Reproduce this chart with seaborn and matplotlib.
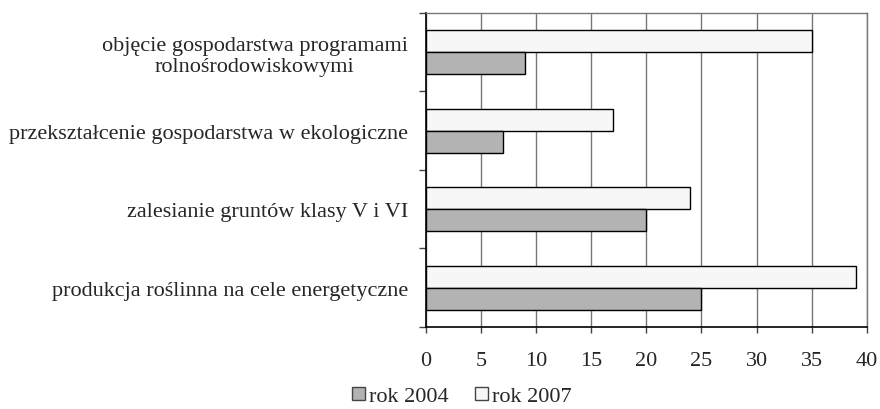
import numpy as np
import pandas as pd
import matplotlib
matplotlib.use("Agg")
import matplotlib.pyplot as plt
import seaborn as sns
from matplotlib.patches import Patch

categories = [
    "objęcie gospodarstwa programami\nrolnośrodowiskowymi",
    "przekształcenie gospodarstwa w ekologiczne",
    "zalesianie gruntów klasy V i VI",
    "produkcja roślinna na cele energetyczne",
]
values_2004 = [9, 7, 20, 25]
values_2007 = [35, 17, 24, 39]
series = ["rok 2004", "rok 2007"]
colors = {"rok 2004": "#b3b3b3", "rok 2007": "#f7f7f7"}

sns.set_style("white")
plt.rcParams["font.family"] = ["Liberation Serif", "DejaVu Serif"]

df = pd.DataFrame({
    "kategoria": categories * 2,
    "wartosc": values_2004 + values_2007,
    "seria": ["rok 2004"] * 4 + ["rok 2007"] * 4,
})

fig = plt.figure(figsize=(8.8, 4.1), dpi=100)
ax = fig.add_axes([0.484, 0.2, 0.501, 0.766])

sns.barplot(data=df, y="kategoria", x="wartosc", hue="seria",
            hue_order=["rok 2007", "rok 2004"], order=categories,
            palette=colors, width=0.56, edgecolor="black", linewidth=1,
            orient="h", ax=ax, legend=False, zorder=3)

ax.set_xlim(0, 40)
ax.set_ylim(3.5, -0.5)
ax.set_xticks(np.arange(0, 41, 5))
ax.xaxis.grid(True, color="#777777", linewidth=1, zorder=0)
ax.set_axisbelow(True)
# major ticks between categories, labels on minor ticks at band centres
ax.set_yticks(np.arange(-0.5, 4, 1), minor=False)
ax.set_yticklabels([])
ax.set_yticks(range(4), minor=True)
ax.set_yticklabels(categories, minor=True, fontsize=16, ha="right", multialignment="center")
ax.tick_params(axis="y", which="minor", length=0, pad=13)
ax.tick_params(axis="y", which="major", length=5, width=1, color="#444444", left=True)
ax.tick_params(axis="x", length=4, width=1, color="#444444", bottom=True, labelsize=16, pad=13)
ax.set_xlabel("")
ax.set_ylabel("")
for s in ["top", "right"]:
    ax.spines[s].set_color("#777777")
    ax.spines[s].set_linewidth(1)
for s in ["left", "bottom"]:
    ax.spines[s].set_color("black")
    ax.spines[s].set_linewidth(1.2)

handles = [Patch(facecolor=colors[s], edgecolor="#444444", label=s) for s in series]
fig.legend(handles=handles, loc="center", bbox_to_anchor=(0.525, 0.03), ncol=2,
           frameon=False, fontsize=16, handlelength=0.55, handleheight=0.55,
           handletextpad=0.2, columnspacing=1.2)

fig.savefig("out.png", dpi=100)
